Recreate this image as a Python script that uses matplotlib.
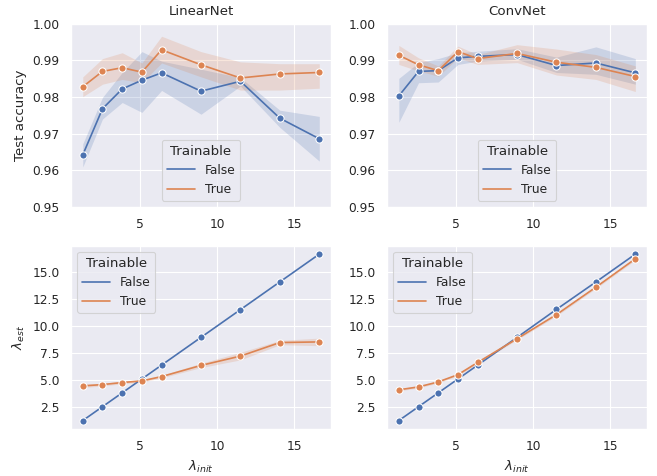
import numpy as np
import matplotlib
matplotlib.use("Agg")
import matplotlib.pyplot as plt
from matplotlib.lines import Line2D
import seaborn as sns

sns.set_theme(context="paper", style="darkgrid")
plt.rcParams['font.family'] = ['DejaVu Sans']

lam_init = [1.28, 2.56, 3.84, 5.12, 6.4, 8.96, 11.52, 14.08, 16.64]
groups = ["False", "True"]

# test accuracy, LinearNet
lin_acc_false = [0.9642, 0.9768, 0.9822, 0.9846, 0.9866, 0.9816, 0.9843, 0.9742, 0.9686]
lin_acc_false_lo = [0.9609, 0.9740, 0.9785, 0.9758, 0.9818, 0.9753, 0.9830, 0.9717, 0.9625]
lin_acc_false_hi = [0.9672, 0.9799, 0.9867, 0.9924, 0.9898, 0.9876, 0.9853, 0.9764, 0.9747]
lin_acc_true = [0.9828, 0.9870, 0.9880, 0.9868, 0.9929, 0.9888, 0.9852, 0.9863, 0.9867]
lin_acc_true_lo = [0.9801, 0.9835, 0.9848, 0.9839, 0.9893, 0.9855, 0.9819, 0.9819, 0.9824]
lin_acc_true_hi = [0.9855, 0.9905, 0.9921, 0.9893, 0.9966, 0.9924, 0.9896, 0.9891, 0.9891]

# test accuracy, ConvNet
conv_acc_false = [0.9803, 0.9870, 0.9872, 0.9907, 0.9911, 0.9916, 0.9886, 0.9893, 0.9866]
conv_acc_false_lo = [0.9731, 0.9839, 0.9841, 0.9889, 0.9898, 0.9903, 0.9867, 0.9862, 0.9835]
conv_acc_false_hi = [0.9851, 0.9894, 0.9905, 0.9921, 0.9925, 0.9932, 0.9909, 0.9937, 0.9905]
conv_acc_true = [0.9914, 0.9888, 0.9872, 0.9924, 0.9905, 0.9919, 0.9895, 0.9881, 0.9856]
conv_acc_true_lo = [0.9889, 0.9871, 0.9857, 0.9907, 0.9889, 0.9894, 0.9860, 0.9848, 0.9815]
conv_acc_true_hi = [0.9941, 0.9907, 0.9885, 0.9939, 0.9916, 0.9943, 0.9931, 0.9916, 0.9885]

# estimated lambda
lin_est_false = [1.28, 2.56, 3.84, 5.12, 6.4, 8.96, 11.52, 14.08, 16.64]
lin_est_true = [4.48, 4.60, 4.79, 4.94, 5.34, 6.37, 7.23, 8.48, 8.54]
lin_est_true_err = [0.15, 0.12, 0.12, 0.1, 0.12, 0.2, 0.35, 0.2, 0.35]
conv_est_false = [1.28, 2.56, 3.84, 5.12, 6.4, 8.96, 11.55, 14.08, 16.65]
conv_est_true = [4.12, 4.39, 4.85, 5.52, 6.65, 8.84, 11.07, 13.6, 16.22]
conv_est_true_err = [0.1, 0.1, 0.1, 0.1, 0.1, 0.1, 0.12, 0.12, 0.12]

colors = sns.color_palette("deep")[:2]


def draw(ax, ys, los, his):
    for y, lo, hi, c in zip(ys, los, his, colors):
        ax.fill_between(lam_init, lo, hi, color=c, alpha=0.2, linewidth=0)
        ax.plot(lam_init, y, color=c, marker='o', markersize=5.2,
                markeredgecolor='white', markeredgewidth=0.75, linewidth=1.2)


def add_legend(ax, loc):
    handles = [Line2D([], [], color=c, linewidth=1.2) for c in colors]
    ax.legend(handles, groups, title="Trainable", loc=loc, handlelength=2.3)


fig, axes = plt.subplots(2, 2, figsize=(6.57, 4.76), dpi=100)
plt.subplots_adjust(left=0.108, right=0.985, top=0.95, bottom=0.099,
                    wspace=0.215, hspace=0.213)

draw(axes[0, 0], [lin_acc_false, lin_acc_true],
     [lin_acc_false_lo, lin_acc_true_lo], [lin_acc_false_hi, lin_acc_true_hi])
draw(axes[0, 1], [conv_acc_false, conv_acc_true],
     [conv_acc_false_lo, conv_acc_true_lo], [conv_acc_false_hi, conv_acc_true_hi])

lt = np.array(lin_est_true)
le = np.array(lin_est_true_err)
draw(axes[1, 0], [lin_est_false, lin_est_true],
     [lin_est_false, lt - le], [lin_est_false, lt + le])
ct = np.array(conv_est_true)
ce = np.array(conv_est_true_err)
draw(axes[1, 1], [conv_est_false, conv_est_true],
     [conv_est_false, ct - ce], [conv_est_false, ct + ce])

axes[0, 0].set_title("LinearNet")
axes[0, 1].set_title("ConvNet")
for ax in axes[0]:
    ax.set_ylim(0.95, 1.0)
    ax.set_yticks([0.95, 0.96, 0.97, 0.98, 0.99, 1.00])
    add_legend(ax, "lower center")
for ax in axes[1]:
    ax.set_yticks([2.5, 5.0, 7.5, 10.0, 12.5, 15.0])
    ax.set_xlabel(r"$\lambda_{init}$")
    add_legend(ax, "upper left")
for ax in axes.flat:
    ax.set_xticks([5, 10, 15])

axes[0, 0].set_ylabel("Test accuracy")
axes[1, 0].set_ylabel(r"$\lambda_{est}$")

plt.savefig("out.png")
